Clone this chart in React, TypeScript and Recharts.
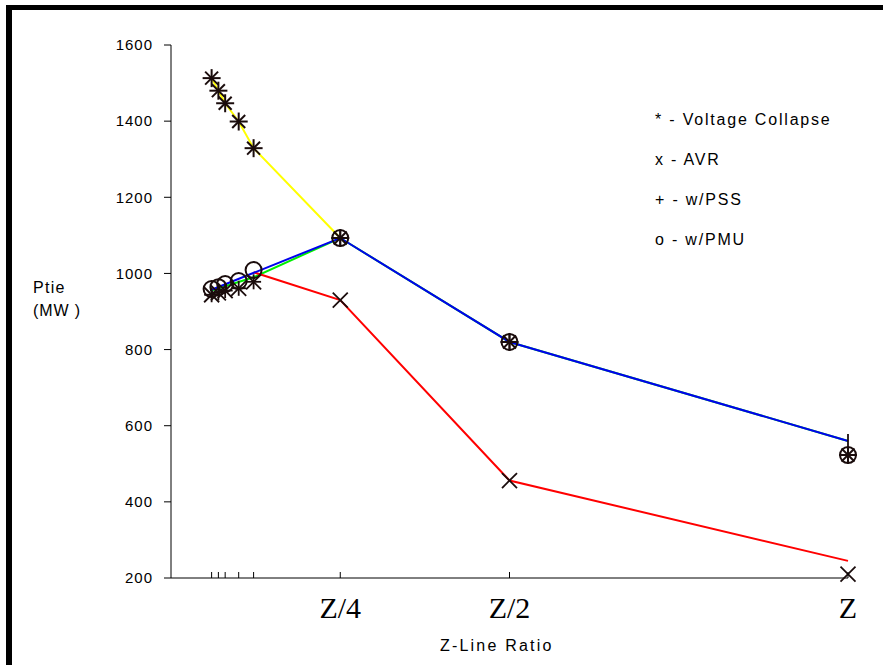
import React from 'react';
import { ComposedChart, Line, Scatter, XAxis, YAxis } from 'recharts';

// ---------- data ----------
const xTicks = [0.06, 0.07, 0.08, 0.1, 0.122, 0.25, 0.5, 1];
const xTickText = ['', '', '', '', '', 'Z/4', 'Z/2', 'Z'];
const yTicks = [200, 400, 600, 800, 1000, 1200, 1400, 1600];

const markerX = [0.06, 0.07, 0.08, 0.1, 0.122, 0.25, 0.5, 1];
const collapseValues = [1513, 1480, 1447, 1399, 1329, 1093, 820, 523];
const pmuValues = [959, 964, 972, 980, 1009, 1093, 820, 523];
const pssValues = [944, 949, 955, 961, 978, 1093, 820, 523];
const avrValues = [944, 949, 955, 961, 978, 930, 456, 210];

const pssEndX = [1];
const pssEndValues = [560];

const collapseLineX = [0.06, 0.07, 0.08, 0.1, 0.122, 0.25];
const collapseLineY = [1513, 1480, 1447, 1399, 1329, 1093];
const avrLineX = [0.122, 0.25, 0.5, 1];
const avrLineY = [1003, 930, 456, 245];
const pssLineX = [0.06, 0.122, 0.25, 0.5, 1];
const pssLineY = [955, 990, 1093, 820, 560];
const pmuLineX = [0.06, 0.25, 0.5, 1];
const pmuLineY = [957, 1093, 820, 560];

const legendItems = ['* - Voltage Collapse', 'x - AVR', '+ - w/PSS', 'o - w/PMU'];

const zip = (xs: number[], ys: number[]) => xs.map((x, i) => ({ x, y: ys[i] }));

const collapseLine = zip(collapseLineX, collapseLineY);
const avrLine = zip(avrLineX, avrLineY);
const pssLine = zip(pssLineX, pssLineY);
const pmuLine = zip(pmuLineX, pmuLineY);
const collapsePts = zip(markerX, collapseValues);
const pmuPts = zip(markerX, pmuValues);
const pssPts = zip(markerX, pssValues);
const avrPts = zip(markerX, avrValues);
const pssEndPts = zip(pssEndX, pssEndValues);

// ---------- styling ----------
const MK = '#1a0c0c';
const SANS = 'Liberation Sans, Arial, sans-serif';

const StarShape = (p: any) => {
  const { cx, cy } = p;
  const r = 9;
  const d = r * 0.72;
  return (
    <g stroke={MK} strokeWidth={2}>
      <line x1={cx - r} y1={cy} x2={cx + r} y2={cy} />
      <line x1={cx} y1={cy - r} x2={cx} y2={cy + r} />
      <line x1={cx - d} y1={cy - d} x2={cx + d} y2={cy + d} />
      <line x1={cx - d} y1={cy + d} x2={cx + d} y2={cy - d} />
    </g>
  );
};
const CircleShape = (p: any) => (
  <circle cx={p.cx} cy={p.cy} r={8} fill="none" stroke={MK} strokeWidth={2} />
);
const PlusShape = (p: any) => {
  const { cx, cy } = p;
  const r = 7.5;
  return (
    <g stroke={MK} strokeWidth={1.8}>
      <line x1={cx - r} y1={cy} x2={cx + r} y2={cy} />
      <line x1={cx} y1={cy - r} x2={cx} y2={cy + r} />
    </g>
  );
};
const XShape = (p: any) => {
  const { cx, cy } = p;
  const r = 7.5;
  return (
    <g stroke={MK} strokeWidth={1.8}>
      <line x1={cx - r} y1={cy - r} x2={cx + r} y2={cy + r} />
      <line x1={cx - r} y1={cy + r} x2={cx + r} y2={cy - r} />
    </g>
  );
};
const VBarShape = (p: any) => {
  const { cx, cy } = p;
  return <line x1={cx} y1={cy - 7} x2={cx} y2={cy + 7} stroke={MK} strokeWidth={1.8} />;
};

const XTick = (props: any) => {
  const { x, y, index } = props;
  const label = xTickText[index];
  return (
    <g>
      <line x1={x} y1={y} x2={x} y2={y - 6} stroke="#000" strokeWidth={1} />
      {label ? (
        <text x={x} y={y + 40} textAnchor="middle" fontFamily="Liberation Serif, Times New Roman, serif" fontSize={30} fill="#000">
          {label}
        </text>
      ) : null}
    </g>
  );
};

export default function App() {
  return (
    <div style={{ position: 'absolute', left: 0, top: 0, width: 883, height: 665, background: '#fff' }}>
      <div
        style={{
          position: 'absolute',
          left: 6,
          top: 5,
          width: 877,
          height: 660,
          borderLeft: '6px solid #000',
          borderTop: '5px solid #000',
          boxSizing: 'border-box',
        }}
      />
      <div style={{ position: 'absolute', left: 0, top: 0 }}>
        <ComposedChart width={883} height={665} margin={{ top: 45, right: 35, bottom: 27, left: 111 }}>
          <XAxis
            type="number"
            dataKey="x"
            domain={[0, 1]}
            ticks={xTicks}
            interval={0}
            height={60}
            tickLine={false}
            tickSize={0}
            tickMargin={0}
            tick={<XTick />}
            axisLine={{ stroke: '#000', strokeWidth: 1 }}
          />
          <YAxis
            type="number"
            dataKey="y"
            domain={[200, 1600]}
            ticks={yTicks}
            interval={0}
            width={60}
            tickSize={7}
            tickMargin={11}
            tickLine={{ stroke: '#000' }}
            axisLine={{ stroke: '#000', strokeWidth: 1 }}
            tick={{ fill: '#000', fontSize: 15, fontFamily: SANS, letterSpacing: 1 }}
          />
          <Line data={collapseLine} dataKey="y" stroke="#ffff00" strokeWidth={2} dot={false} isAnimationActive={false} />
          <Line data={pssLine} dataKey="y" stroke="#00ee00" strokeWidth={2} dot={false} isAnimationActive={false} />
          <Line data={avrLine} dataKey="y" stroke="#ff0000" strokeWidth={2} dot={false} isAnimationActive={false} />
          <Line data={pmuLine} dataKey="y" stroke="#0000ee" strokeWidth={2} dot={false} isAnimationActive={false} />
          <Scatter data={collapsePts} shape={StarShape} isAnimationActive={false} />
          <Scatter data={pmuPts} shape={CircleShape} isAnimationActive={false} />
          <Scatter data={pssPts} shape={PlusShape} isAnimationActive={false} />
          <Scatter data={avrPts} shape={XShape} isAnimationActive={false} />
          <Scatter data={pssEndPts} shape={VBarShape} isAnimationActive={false} />
        </ComposedChart>
      </div>
      <svg width={883} height={665} style={{ position: 'absolute', left: 0, top: 0, pointerEvents: 'none' }}>
        {legendItems.map((t, i) => (
          <text key={t} x={655} y={125 + i * 40} fontFamily={SANS} fontSize={16} letterSpacing={1.8} fill="#000">
            {t}
          </text>
        ))}
        <text x={33} y={293} fontFamily={SANS} fontSize={16} letterSpacing={1.3} fill="#000">Ptie</text>
        <text x={33} y={316} fontFamily={SANS} fontSize={16} letterSpacing={0.9} fill="#000">(MW )</text>
        <text x={440} y={651} fontFamily={SANS} fontSize={16} letterSpacing={2.2} fill="#000">Z-Line Ratio</text>
      </svg>
    </div>
  );
}
